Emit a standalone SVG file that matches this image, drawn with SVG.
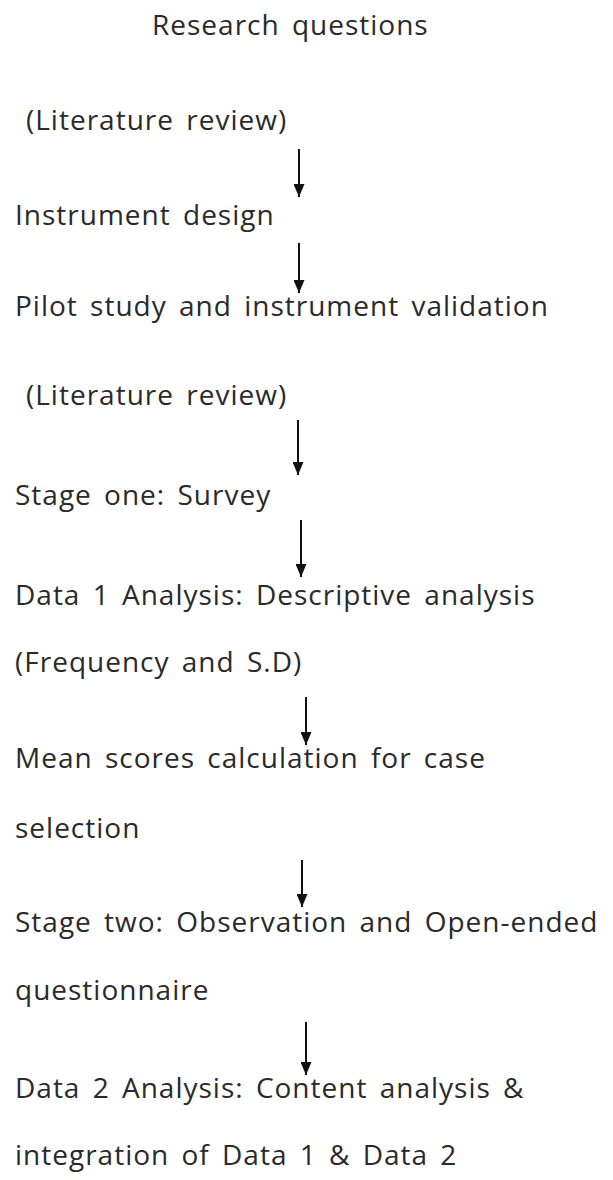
<svg xmlns="http://www.w3.org/2000/svg" width="613" height="1180" viewBox="0 0 613 1180">
<style>
text{font-family:"Open Sans","Noto Sans",sans-serif;font-size:28px;fill:#2a2a2a;letter-spacing:1px;word-spacing:4px}
.c line{stroke:#111;stroke-width:2;marker-end:url(#ah)}
</style>
<defs><marker id="ah" markerWidth="13" markerHeight="11" refX="13" refY="5.5" orient="auto" markerUnits="userSpaceOnUse" viewBox="0 0 13 11"><path d="M0,0L13,5.5L0,11Z" fill="#111"/></marker></defs>
<rect width="613" height="1180" fill="#fff"/>
<g id="n1"><text x="152" y="35">Research questions</text></g>
<g id="n2"><text x="26" y="130">(Literature review)</text></g>
<g id="n3"><text x="15" y="225">Instrument design</text></g>
<g id="n4"><text x="15" y="316">Pilot study and instrument validation</text></g>
<g id="n5"><text x="26" y="405">(Literature review)</text></g>
<g id="n6"><text x="15" y="505">Stage one: Survey</text></g>
<g id="n7"><text x="15" y="605">Data 1 Analysis: Descriptive analysis</text><text x="15" y="672">(Frequency and S.D)</text></g>
<g id="n8"><text x="15" y="768">Mean scores calculation for case</text><text x="15" y="838">selection</text></g>
<g id="n9"><text x="15" y="932">Stage two: Observation and Open-ended</text><text x="15" y="1000">questionnaire</text></g>
<g id="n10"><text x="15" y="1098">Data 2 Analysis:  Content analysis &amp;</text><text x="15" y="1165">integration of Data 1 &amp; Data 2</text></g>
<g class="c" id="connectors">
<line x1="299" y1="149" x2="299" y2="197"/>
<line x1="299" y1="243" x2="299" y2="293"/>
<line x1="298" y1="420" x2="298" y2="475"/>
<line x1="301" y1="520" x2="301" y2="577"/>
<line x1="306" y1="697" x2="306" y2="745"/>
<line x1="302" y1="860" x2="302" y2="907"/>
<line x1="306" y1="1022" x2="306" y2="1075"/>
</g>
</svg>
